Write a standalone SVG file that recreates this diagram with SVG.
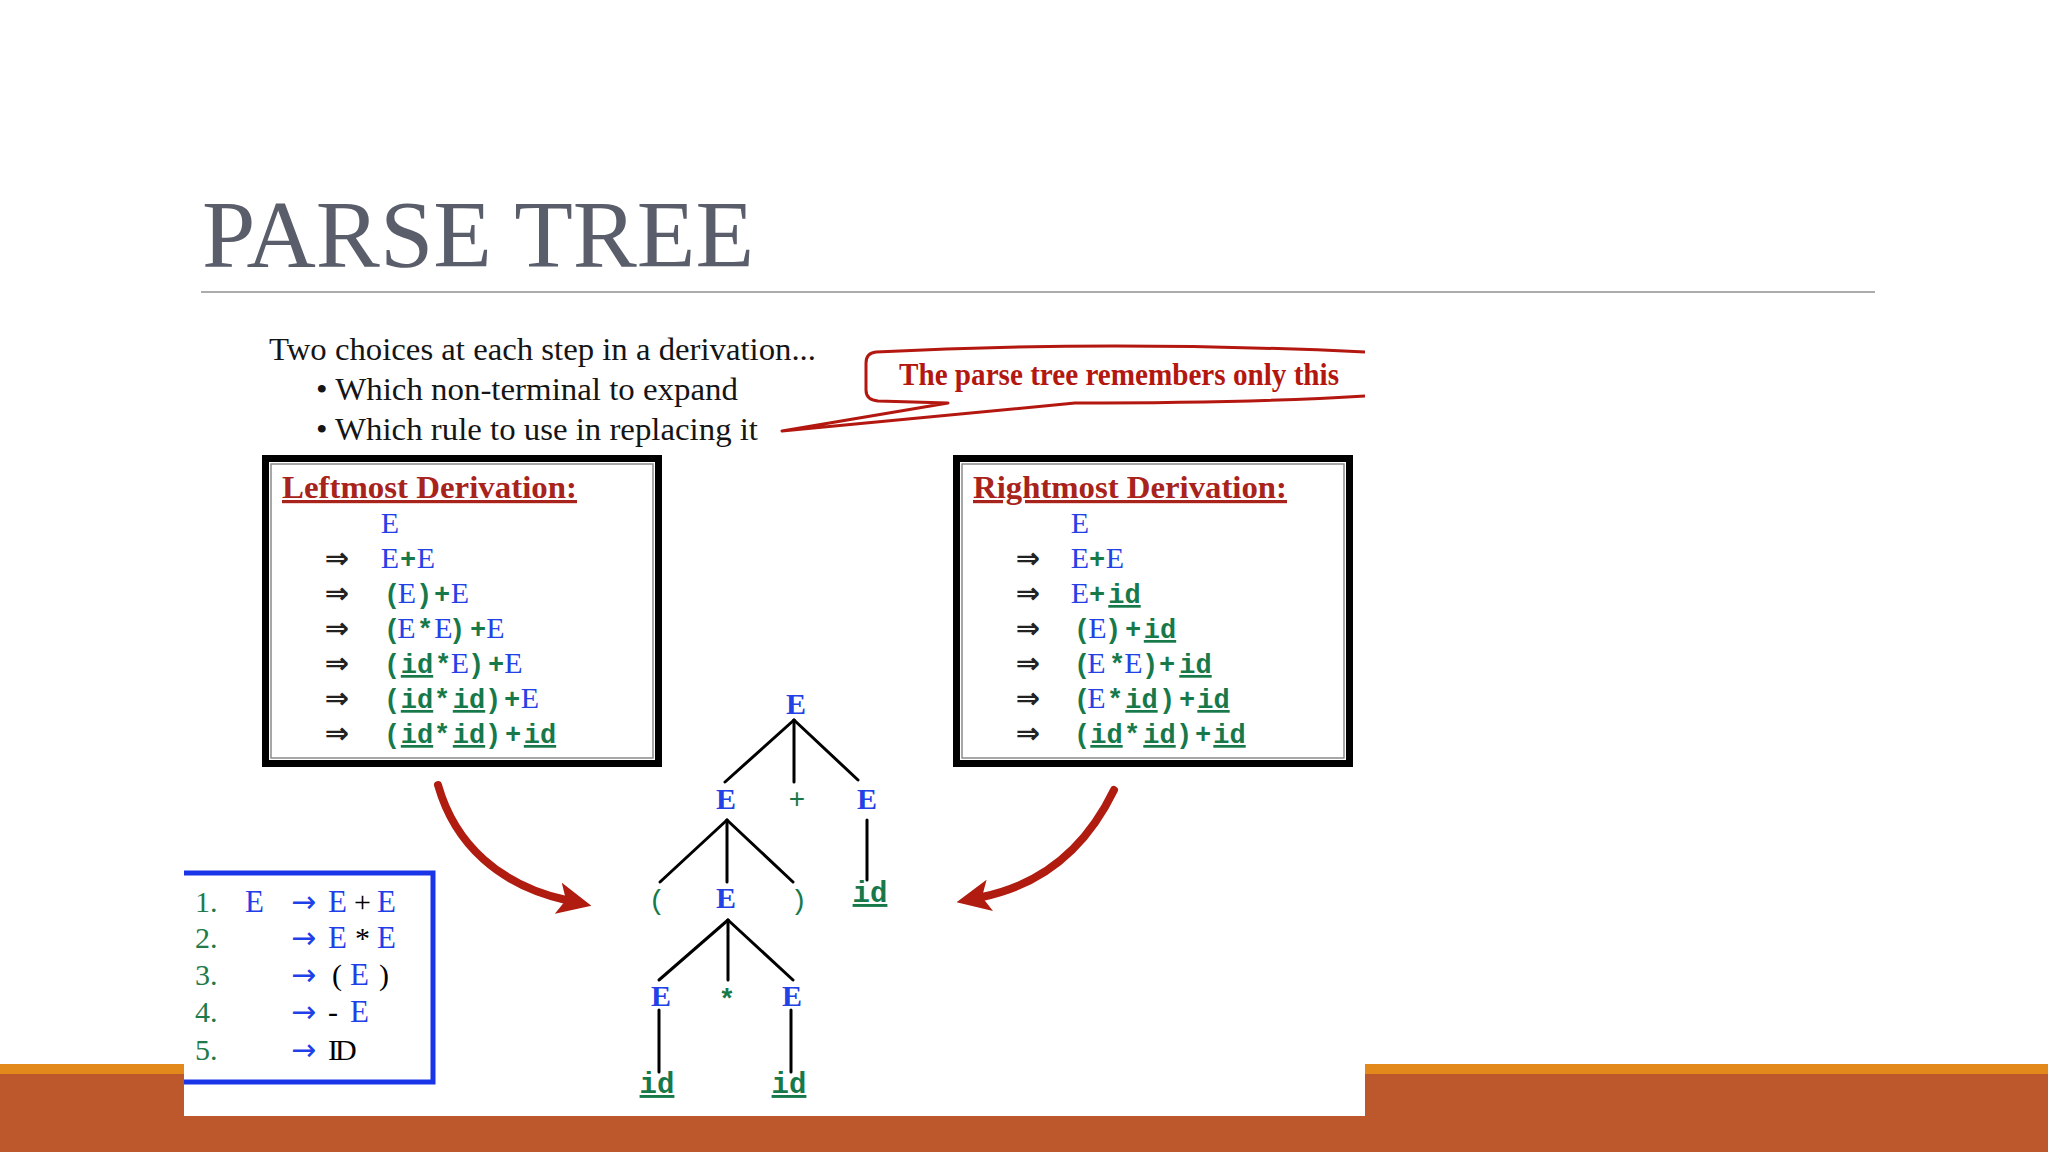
<svg xmlns="http://www.w3.org/2000/svg" width="2048" height="1152" viewBox="0 0 2048 1152">
<style>
.title{font-family:"Liberation Serif",serif;font-size:96px;fill:#5a5e6b}
.body{font-family:"Liberation Serif",serif;font-size:31px;fill:#151515}
.call{font-family:"Liberation Serif",serif;font-size:31px;font-weight:bold;fill:#b3170f}
.hd{font-family:"Liberation Serif",serif;font-size:32px;font-weight:bold;fill:#a8231b;text-decoration:underline}
.d{text-anchor:middle}
.E{font-family:"Liberation Serif",serif;font-size:30px;fill:#2342e6}
.g{font-family:"Liberation Mono",monospace;font-weight:bold;font-size:27px;fill:#17794a}
.u{text-decoration:underline}
.arr{font-family:"DejaVu Sans",sans-serif;font-weight:bold;font-size:29px;fill:#222}
.box{fill:#fff;stroke:#000;stroke-width:7}
.inner{fill:none;stroke:#8a8a8a;stroke-width:1.5}
.tE{font-family:"Liberation Serif",serif;font-weight:bold;font-size:30px;fill:#2342e6;text-anchor:middle}
.tg{font-family:"Liberation Mono",monospace;font-size:28px;fill:#17794a;text-anchor:middle}
.tid{font-family:"Liberation Mono",monospace;font-weight:bold;font-size:29px;fill:#17794a;text-anchor:middle;text-decoration:underline}
.edge{stroke:#000;stroke-width:3;fill:none;stroke-linecap:round}
.red{stroke:#b01c10;stroke-width:8;fill:none;stroke-linecap:round}
.rn{font-family:"Liberation Serif",serif;font-size:30px;fill:#1f7a4a}
.rE{font-family:"Liberation Serif",serif;font-size:31px;fill:#1f3fe8}
.rk{font-family:"Liberation Serif",serif;font-size:30px;fill:#000}
.ra{font-family:"DejaVu Sans",sans-serif;font-size:30px;fill:#1f3fe8}
</style>
<defs>
<marker id="head" viewBox="0 0 34 32" refX="8" refY="16" markerWidth="34" markerHeight="32" markerUnits="userSpaceOnUse" orient="auto">
<path d="M0,0 L34,16 L0,32 L8,16 z" fill="#b01c10"/>
</marker>
</defs>
<rect width="2048" height="1152" fill="#fff"/>
<g id="bands">
<rect x="0" y="1064" width="2048" height="10" fill="#e3891b"/>
<rect x="0" y="1074" width="2048" height="78" fill="#bd582c"/>
</g>
<g id="title">
<text class="title" x="202" y="267" textLength="552" lengthAdjust="spacingAndGlyphs">PARSE TREE</text>
<line x1="201" y1="292" x2="1875" y2="292" stroke="#acacac" stroke-width="2"/>
</g>
<rect id="picture" x="184" y="333" width="1181" height="783" fill="#fff"/>
<g id="intro">
<text class="body" x="269" y="360" textLength="547" lengthAdjust="spacingAndGlyphs">Two choices at each step in a derivation...</text>
<text class="body" x="316" y="400" textLength="422" lengthAdjust="spacingAndGlyphs">• Which non-terminal to expand</text>
<text class="body" x="316" y="440" textLength="442" lengthAdjust="spacingAndGlyphs">• Which rule to use in replacing it</text>
</g>
<g id="callout">
<path d="M1365,352 Q1110,340 876,352 Q866,353 866,363 L866,390 Q866,400 878,401 L948,403 L782,431 L1075,403 Q1250,403 1365,396" fill="#fff" stroke="#b3170f" stroke-width="3" stroke-linejoin="round"/>
<text class="call" x="899" y="385" textLength="440" lengthAdjust="spacingAndGlyphs">The parse tree remembers only this</text>
</g>
<g id="leftmost">
<rect class="box" x="265.5" y="458.5" width="393" height="305"/>
<rect class="inner" x="271" y="464" width="382" height="294"/>
<text class="hd" x="282" y="498" textLength="295" lengthAdjust="spacingAndGlyphs">Leftmost Derivation:</text>
<text class="d" y="533"><tspan class="E" x="390">E</tspan></text>
<text class="d" y="568"><tspan class="arr" x="337">⇒</tspan><tspan class="E" x="390">E</tspan><tspan class="g" x="408">+</tspan><tspan class="E" x="426">E</tspan></text>
<text class="d" y="603"><tspan class="arr" x="337">⇒</tspan><tspan class="g" x="392">(</tspan><tspan class="E" x="407">E</tspan><tspan class="g" x="424">)</tspan><tspan class="g" x="442">+</tspan><tspan class="E" x="460">E</tspan></text>
<text class="d" y="638"><tspan class="arr" x="337">⇒</tspan><tspan class="g" x="392">(</tspan><tspan class="E" x="406.5">E</tspan><tspan class="g" x="425">*</tspan><tspan class="E" x="443.5">E</tspan><tspan class="g" x="457">)</tspan><tspan class="g" x="478">+</tspan><tspan class="E" x="495.5">E</tspan></text>
<text class="d" y="673"><tspan class="arr" x="337">⇒</tspan><tspan class="g" x="392">(</tspan><tspan class="g u" x="417">id</tspan><tspan class="g" x="443">*</tspan><tspan class="E" x="460">E</tspan><tspan class="g" x="476">)</tspan><tspan class="g" x="496">+</tspan><tspan class="E" x="513.5">E</tspan></text>
<text class="d" y="708"><tspan class="arr" x="337">⇒</tspan><tspan class="g" x="392">(</tspan><tspan class="g u" x="417">id</tspan><tspan class="g" x="442">*</tspan><tspan class="g u" x="469">id</tspan><tspan class="g" x="493">)</tspan><tspan class="g" x="512">+</tspan><tspan class="E" x="530">E</tspan></text>
<text class="d" y="743"><tspan class="arr" x="337">⇒</tspan><tspan class="g" x="392">(</tspan><tspan class="g u" x="417">id</tspan><tspan class="g" x="442">*</tspan><tspan class="g u" x="469">id</tspan><tspan class="g" x="493">)</tspan><tspan class="g" x="513">+</tspan><tspan class="g u" x="540">id</tspan></text>
</g>
<g id="rightmost">
<rect class="box" x="956.5" y="458.5" width="393" height="305"/>
<rect class="inner" x="962" y="464" width="382" height="294"/>
<text class="hd" x="973" y="498" textLength="314" lengthAdjust="spacingAndGlyphs">Rightmost Derivation:</text>
<text class="d" y="533"><tspan class="E" x="1080">E</tspan></text>
<text class="d" y="568"><tspan class="arr" x="1028">⇒</tspan><tspan class="E" x="1080">E</tspan><tspan class="g" x="1097">+</tspan><tspan class="E" x="1115">E</tspan></text>
<text class="d" y="603"><tspan class="arr" x="1028">⇒</tspan><tspan class="E" x="1080">E</tspan><tspan class="g" x="1097" font-weight="normal">+</tspan><tspan class="g u" x="1124.5">id</tspan></text>
<text class="d" y="638"><tspan class="arr" x="1028">⇒</tspan><tspan class="g" x="1082">(</tspan><tspan class="E" x="1097.5">E</tspan><tspan class="g" x="1113">)</tspan><tspan class="g" x="1133">+</tspan><tspan class="g u" x="1160">id</tspan></text>
<text class="d" y="673"><tspan class="arr" x="1028">⇒</tspan><tspan class="g" x="1082">(</tspan><tspan class="E" x="1096.5">E</tspan><tspan class="g" x="1117">*</tspan><tspan class="E" x="1133.5">E</tspan><tspan class="g" x="1150">)</tspan><tspan class="g" x="1167">+</tspan><tspan class="g u" x="1195.5">id</tspan></text>
<text class="d" y="708"><tspan class="arr" x="1028">⇒</tspan><tspan class="g" x="1082">(</tspan><tspan class="E" x="1096.5">E</tspan><tspan class="g" x="1115">*</tspan><tspan class="g u" x="1141.5">id</tspan><tspan class="g" x="1167">)</tspan><tspan class="g" x="1187">+</tspan><tspan class="g u" x="1213.5">id</tspan></text>
<text class="d" y="743"><tspan class="arr" x="1028">⇒</tspan><tspan class="g" x="1082">(</tspan><tspan class="g u" x="1106.5">id</tspan><tspan class="g" x="1132">*</tspan><tspan class="g u" x="1159.5">id</tspan><tspan class="g" x="1184">)</tspan><tspan class="g" x="1203">+</tspan><tspan class="g u" x="1229.5">id</tspan></text>
</g>
<g id="grammar">
<path d="M184,873 L433,873 L433,1082 L184,1082" fill="#fff" stroke="#1a35e8" stroke-width="5"/>
<text y="912"><tspan class="rn" x="195">1.</tspan><tspan class="rE" x="245">E</tspan><tspan class="ra" x="291">→</tspan><tspan class="rE" x="328">E</tspan><tspan class="rk" x="354">+</tspan><tspan class="rE" x="377">E</tspan></text>
<text y="948"><tspan class="rn" x="195">2.</tspan><tspan class="ra" x="291">→</tspan><tspan class="rE" x="328">E</tspan><tspan class="rk" x="355">*</tspan><tspan class="rE" x="377">E</tspan></text>
<text y="985"><tspan class="rn" x="195">3.</tspan><tspan class="ra" x="291">→</tspan><tspan class="rk" x="332">(</tspan><tspan class="rE" x="350">E</tspan><tspan class="rk" x="379">)</tspan></text>
<text y="1022"><tspan class="rn" x="195">4.</tspan><tspan class="ra" x="291">→</tspan><tspan class="rk" x="328">-</tspan><tspan class="rE" x="350">E</tspan></text>
<text y="1060"><tspan class="rn" x="195">5.</tspan><tspan class="ra" x="291">→</tspan><tspan class="rk" x="328" letter-spacing="-3">ID</tspan></text>
</g>
<g id="tree">
<g id="n-root"><text class="tE" x="796" y="714">E</text></g>
<g id="n-E1"><text class="tE" x="726" y="809">E</text></g>
<g id="n-plus"><text class="tg" x="797" y="808">+</text></g>
<g id="n-E2"><text class="tE" x="867" y="809">E</text></g>
<g id="n-lp"><text class="tg" x="657" y="909">(</text></g>
<g id="n-E3"><text class="tE" x="726" y="908">E</text></g>
<g id="n-rp"><text class="tg" x="799" y="909">)</text></g>
<g id="n-id1"><text class="tid" x="870" y="902">id</text></g>
<g id="n-E4"><text class="tE" x="661" y="1006">E</text></g>
<g id="n-star"><text class="tg" x="727" y="1008" font-weight="bold">*</text></g>
<g id="n-E5"><text class="tE" x="792" y="1006">E</text></g>
<g id="n-id2"><text class="tid" x="657" y="1093">id</text></g>
<g id="n-id3"><text class="tid" x="789" y="1093">id</text></g>
</g>
<g id="connectors">
<line class="edge" x1="794" y1="720" x2="725" y2="782"/>
<line class="edge" x1="794" y1="720" x2="794" y2="782"/>
<line class="edge" x1="794" y1="720" x2="858" y2="780"/>
<line class="edge" x1="727" y1="820" x2="660" y2="882"/>
<line class="edge" x1="727" y1="820" x2="727" y2="882"/>
<line class="edge" x1="727" y1="820" x2="793" y2="882"/>
<line class="edge" x1="867" y1="820" x2="867" y2="880"/>
<line class="edge" x1="728" y1="920" x2="659" y2="980"/>
<line class="edge" x1="728" y1="920" x2="728" y2="980"/>
<line class="edge" x1="728" y1="920" x2="793" y2="980"/>
<line class="edge" x1="659" y1="1010" x2="659" y2="1072"/>
<line class="edge" x1="791" y1="1010" x2="791" y2="1072"/>
<path class="red" d="M438,785 C455,845 500,885 566,900" marker-end="url(#head)"/>
<path class="red" d="M1114,790 C1085,850 1040,885 982,897" marker-end="url(#head)"/>
</g>
</svg>
